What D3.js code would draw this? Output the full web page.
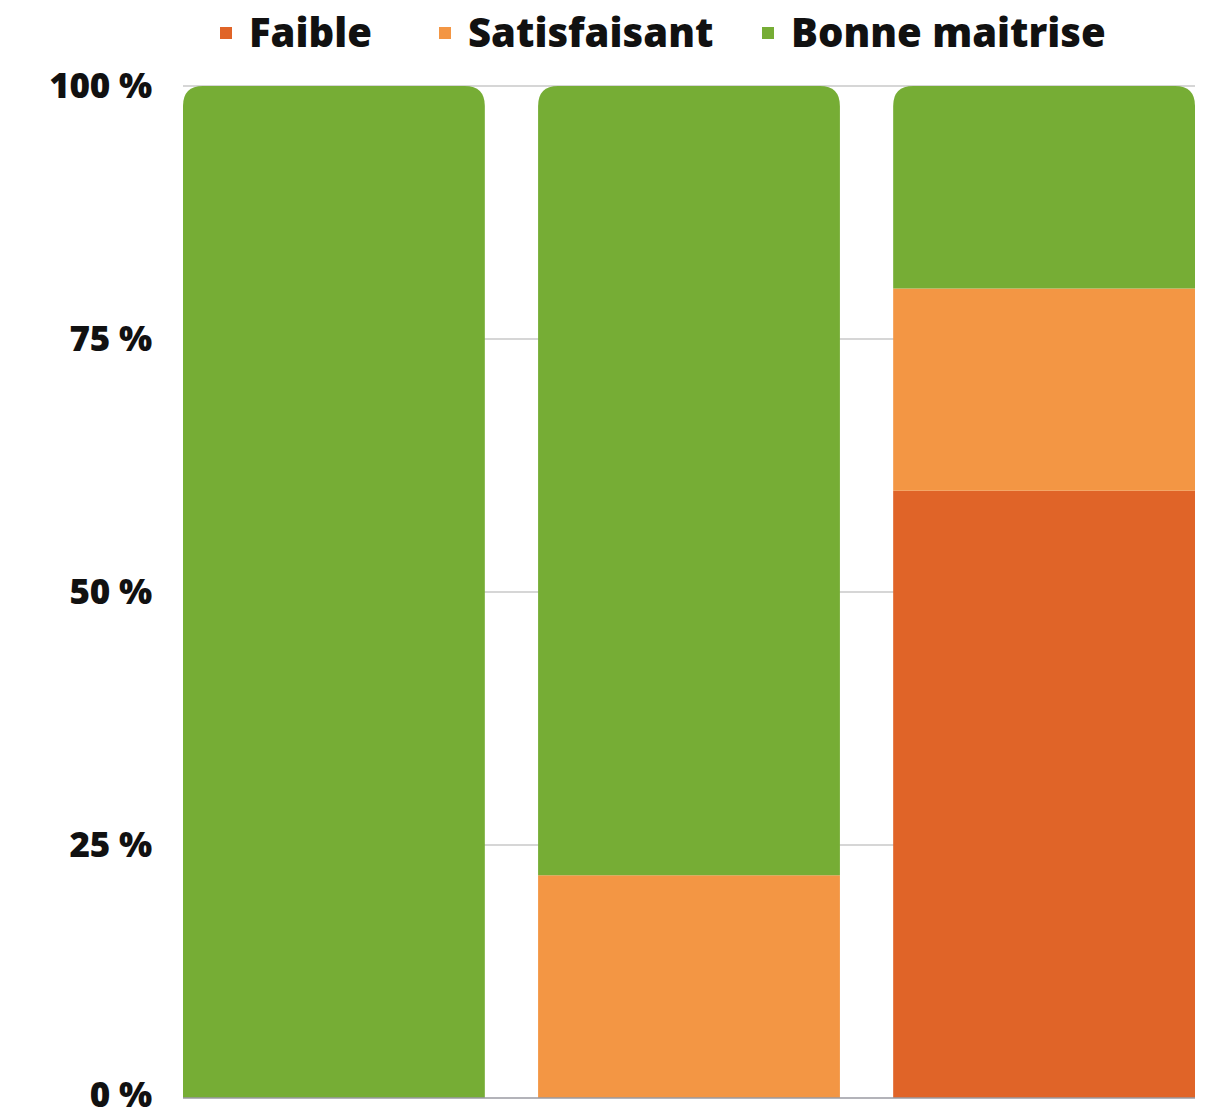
<!DOCTYPE html>
<html>
<head>
<meta charset="utf-8">
<script src="https://cdn.jsdelivr.net/npm/d3@7"></script>
<style>
  body { margin: 0; background: #fff; }
  text { font-family: "Open Sans", sans-serif; font-weight: 800; fill: #111; }
</style>
</head>
<body>
<svg id="chart" width="1214" height="1120"></svg>
<script>
const categories = ["A", "B", "C"];
const seriesNames = ["Faible", "Satisfaisant", "Bonne maitrise"];
const faible = [0, 0, 60];
const satisfaisant = [0, 22, 20];
const bonneMaitrise = [100, 78, 20];
const yTicks = [0, 25, 50, 75, 100];
const colors = ["#e06428", "#f39644", "#76ad35"];

const svg = d3.select("#chart");
const margin = { top: 86, right: 19, bottom: 22, left: 183 };
const width = 1214 - margin.left - margin.right;
const height = 1120 - margin.top - margin.bottom;

const g = svg.append("g").attr("transform", `translate(${margin.left},${margin.top})`);

const x = d3.scaleBand().domain(categories).range([0, width]).paddingInner(0.15).paddingOuter(0);
const y = d3.scaleLinear().domain([0, 100]).range([height, 0]);

// gridlines
g.selectAll(".grid")
  .data(yTicks.filter(d => d > 0))
  .join("line")
  .attr("x1", 0).attr("x2", width)
  .attr("y1", d => y(d)).attr("y2", d => y(d))
  .attr("stroke", "#c8c8c8").attr("stroke-width", 1.5);

// y labels (0 % nudged up so it stays inside the frame)
g.selectAll(".ylab")
  .data(yTicks)
  .join("text")
  .attr("x", -31)
  .attr("y", d => y(d) - (d === 0 ? 3 : 0))
  .attr("dy", "0.35em")
  .attr("text-anchor", "end")
  .style("font-size", "35px")
  .style("letter-spacing", "-0.2px")
  .text(d => d + " %");

// stack
const rows = categories.map((c, i) => ({
  cat: c,
  "Faible": faible[i],
  "Satisfaisant": satisfaisant[i],
  "Bonne maitrise": bonneMaitrise[i]
}));
const stacked = d3.stack().keys(seriesNames)(rows);

const r = 20;
function segPath(x0, w, yTop, yBot, rounded) {
  if (!rounded) return `M${x0},${yBot}V${yTop}H${x0 + w}V${yBot}Z`;
  return `M${x0},${yBot}V${yTop + r}Q${x0},${yTop} ${x0 + r},${yTop}` +
    `H${x0 + w - r}Q${x0 + w},${yTop} ${x0 + w},${yTop + r}V${yBot}Z`;
}

stacked.forEach((layer, li) => {
  g.selectAll(".s" + li)
    .data(layer)
    .join("path")
    .attr("fill", colors[li])
    .attr("d", d => {
      if (d[1] - d[0] <= 0) return null;
      const isTop = d[1] >= 100;
      return segPath(x(d.data.cat), x.bandwidth(), y(d[1]), y(d[0]), isTop);
    });
});

// baseline
g.append("line")
  .attr("x1", 0).attr("x2", width)
  .attr("y1", height).attr("y2", height)
  .attr("stroke", "#9a9aa2").attr("stroke-width", 1.5);

// legend
const legend = svg.append("g");
const legendX = [220, 439, 762];
seriesNames.forEach((s, i) => {
  legend.append("rect")
    .attr("x", legendX[i]).attr("y", 27)
    .attr("width", 12).attr("height", 12)
    .attr("fill", colors[i]);
  legend.append("text")
    .attr("x", legendX[i] + 29).attr("y", 33)
    .attr("dy", "0.35em")
    .style("font-size", "40px")
    .text(s);
});
</script>
</body>
</html>
